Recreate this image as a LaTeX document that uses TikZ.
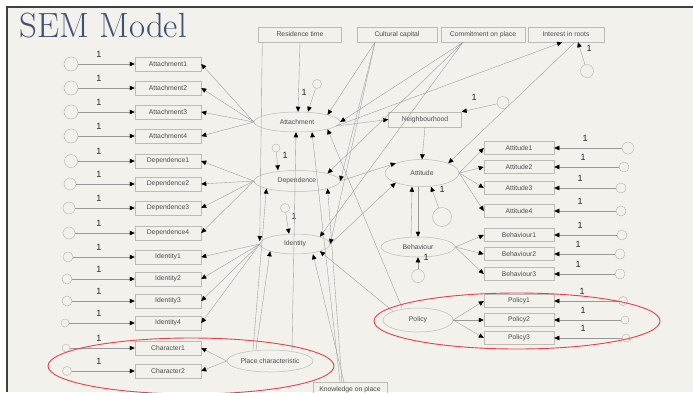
\documentclass[tikz,border=0pt]{standalone}
\usepackage{fontspec}
\usetikzlibrary{arrows.meta,shapes.geometric}
\newfontfamily\semsans{Liberation Sans}
\definecolor{slidebg}{HTML}{F3F1EC}
\definecolor{titleblue}{HTML}{3E5272}
\definecolor{linegray}{HTML}{989898}
\definecolor{boxgray}{HTML}{BDBBB6}
\definecolor{markred}{HTML}{E8404A}

\tikzset{
  obs/.style={draw=boxgray,line width=0.5pt,inner sep=0pt,minimum width=66pt,minimum height=14pt,
    text=black!70,font=\semsans\fontsize{6.8}{8}\selectfont},
  lat/.style={obs,ellipse},
  err/.style={circle,draw=boxgray,line width=0.5pt,inner sep=0pt},
  one/.style={inner sep=0pt,text=black!85,font=\semsans\fontsize{9}{9}\selectfont},
  link/.style={->,draw=linegray,line width=0.35pt}
}

\begin{document}
\begin{tikzpicture}[x=1pt,y=-1pt,>={Triangle[length=5pt,width=4.5pt,color=black]}]
    \useasboundingbox(0,0)rectangle(693,392);
    \fill[slidebg](7,7)rectangle(693,392);
    \draw[black!75,line width=1.2pt](7,392)--(7,7)--(693,7);
    \node[anchor=base west,inner sep=0pt,text=titleblue,font=\fontsize{35}{35}\selectfont](title)at(19,37){SEM Model};

    % observed variables on top
    \node[obs,minimum width=83pt,minimum height=15pt](res)at(300,34.5){Residence time};
    \node[obs,minimum width=80pt,minimum height=15pt](cul)at(397,34.5){Cultural capital};
    \node[obs,minimum width=84pt,minimum height=15pt](com)at(483,34.5){Commitment on place};
    \node[obs,minimum width=76pt,minimum height=15pt](roots)at(566,34.5){Interest in roots};
    \node[obs,minimum width=73pt,minimum height=15pt](neigh)at(425,119.5){Neighbourhood};
    \node[obs,minimum width=74pt,minimum height=15pt](know)at(350,390){Knowledge on place};

    % latent variables
    \node[lat,minimum width=86pt,minimum height=20pt](att)at(297,122){Attachment};
    \node[lat,minimum width=86pt,minimum height=21pt](dep)at(297,181){Dependence};
    \node[lat,minimum width=70pt,minimum height=20pt](iden)at(295,244){Identity};
    \node[lat,minimum width=86pt,minimum height=22pt](plc)at(270,361){Place characteristic};
    \node[lat,minimum width=74pt,minimum height=27pt](atti)at(422,173){Attitude};
    \node[lat,minimum width=74pt,minimum height=20pt](beh)at(418,247){Behaviour};
    \node[lat,minimum width=70pt,minimum height=24pt](pol)at(418,320){Policy};

    % residuals of the latent variables
    \node[err,minimum size=9pt](eatt)at(317,84){};
    \node[err,minimum size=8pt](edep)at(276,148){};
    \node[err,minimum size=9pt](eiden)at(285,208){};
    \node[err,minimum size=12pt](eneigh)at(503,102.5){};
    \node[err,minimum size=13pt](eroots)at(587,71){};
    \node[err,minimum size=19pt](eatti)at(442,217){};
    \node[err,minimum size=13pt](ebeh)at(418,276){};
    \node[one](oatt)at(304,92){1};
    \node[one](odep)at(285,155){1};
    \node[one](oiden)at(294,216){1};
    \node[one](oneigh)at(474,97){1};
    \node[one](oroots)at(589,48){1};
    \node[one](oatti)at(442,189){1};
    \node[one](obeh)at(426,257){1};

    % indicators on the left
    \foreach \n/\t/\y/\cx/\d in {a1/Attachment1/64/71/14pt,a2/Attachment2/88/71/14pt,a3/Attachment3/112/71/14pt,
        a4/Attachment4/136/71/14pt,d1/Dependence1/161/71/13pt,d2/Dependence2/184/70/12pt,d3/Dependence3/208/69/12pt,
        d4/Dependence4/233/69/12pt,i1/Identity1/257/68/10pt,i2/Identity2/279/67/10pt,i3/Identity3/301/67/10pt,
        i4/Identity4/323/65/8pt,c1/Character1/348/66/8pt,c2/Character2/371/67/9pt}{
        \node[obs](\n)at(168,\y){\t};
        \node[err,minimum size=\d](e\n)at(\cx,\y){};
        \node[one](o\n)at(99,\y-9.5){1};
        \draw[link](e\n)--(\n);
    }

    % indicators on the right
    \foreach \n/\t/\y/\cx/\d/\lx in {t1/Attitude1/148/628/12pt/585,t2/Attitude2/167/624/10pt/583,t3/Attitude3/188/621/10pt/580,
        t4/Attitude4/211/621/10pt/580,b1/Behaviour1/235/622/10pt/580,b2/Behaviour2/254/620/10pt/578,
        b3/Behaviour3/274/620/10pt/578,p1/Policy1/301/623/9pt/582,p2/Policy2/320/625/8pt/583,p3/Policy3/338/626/8pt/583}{
        \node[obs,minimum width=70pt,minimum height=13pt](\n)at(519,\y){\t};
        \node[err,minimum size=\d](e\n)at(\cx,\y){};
        \node[one](o\n)at(\lx,\y-10){1};
        \draw[link](e\n)--(\n);
    }

    % loadings
    \foreach \n in {a1,a2,a3,a4}\draw[link](att.west)--(\n.east);
    \foreach \n in {d1,d2,d3,d4}\draw[link](dep.west)--(\n.east);
    \foreach \n in {i1,i2,i3,i4}\draw[link](iden.west)--(\n.east);
    \foreach \n in {c1,c2}\draw[link](plc.west)--(\n.east);
    \foreach \n in {t1,t2,t3,t4}\draw[link](atti.east)--(\n.west);
    \foreach \n in {b1,b2,b3}\draw[link](beh.east)--(\n.west);
    \foreach \n in {p1,p2,p3}\draw[link](pol.east)--(\n.west);

    % paths into Attachment
    \draw[link](res.south)--([xshift=1pt]att.north);
    \draw[link](eatt)--([xshift=11pt]att.north);
    \draw[link]([xshift=-22pt]cul.south)--(att.north east);
    \draw[link]([xshift=-20pt]com.south)--(att.east);
    \draw[link]([xshift=22pt]plc.north)--([xshift=-1pt]att.south);
    \draw[link]([xshift=-10pt]know.north)--([xshift=15pt]att.south);
    \draw[link]([xshift=-16pt]pol.north)--(att.south east);
    \draw[link]([xshift=-4pt,yshift=-4pt]att.east)--(neigh.west);
    \draw[link]([xshift=-4pt,yshift=-4pt]att.east)--([xshift=-4pt]roots.south);

    % paths into Dependence
    \draw[link](edep)--([xshift=-19pt]dep.north);
    \draw[link]([xshift=-17pt]plc.north)--(dep.south west);
    \draw[link]([xshift=-8pt]know.north)--(dep.south east);
    \draw[link]([xshift=-20pt]com.south)--(dep.north east);
    \draw[link]([xshift=-22pt]cul.south)--(dep.east);
    \draw[link](dep.east)--(atti.north west);

    % paths into Identity
    \draw[link](eiden)--([xshift=-6pt]iden.north);
    \draw[link]([xshift=4pt]res.south west)--([yshift=3pt]iden.west);
    \draw[link]([xshift=-14pt]plc.north)--(iden.south west);
    \draw[link]([xshift=-6pt]know.north)--([xshift=18pt]iden.south);
    \draw[link](pol.north west)--(iden.south east);
    \draw[link]([xshift=-20pt]com.south)--(iden.north east);
    \draw[link]([xshift=-22pt]cul.south)--(iden.east);
    \draw[link](iden.east)--(atti.south west);

    % Attitude and Behaviour
    \draw[link](neigh.south)--(atti.north);
    \draw[link]([xshift=9pt]roots.south)--(atti.north east);
    \draw[link]([xshift=-7pt]beh.north)--([xshift=-10pt]atti.south);
    \draw[link]([xshift=-4pt]atti.south)--(beh.north);
    \draw[link](eatti)--([xshift=9pt]atti.south);
    \draw[link](ebeh)--(beh.south);
    \draw[link](eneigh)--(neigh.north east);
    \draw[link](eroots)--([xshift=12pt]roots.south);

    % highlights
    \draw[markred,line width=0.9pt](191,366)ellipse[x radius=143,y radius=28];
    \draw[markred,line width=0.9pt](517,321)ellipse[x radius=143,y radius=28];
\end{tikzpicture}
\end{document}
